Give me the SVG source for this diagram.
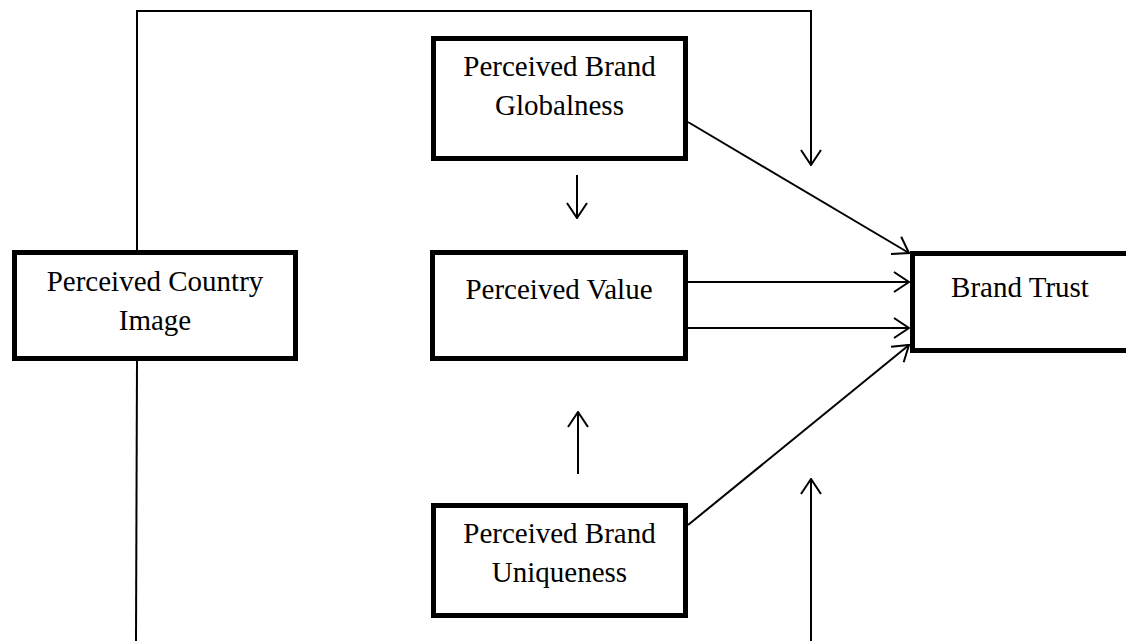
<svg xmlns="http://www.w3.org/2000/svg" width="1126" height="641" viewBox="0 0 1126 641">
  <style>
    .box { fill: #ffffff; stroke: #000000; stroke-width: 5; }
    .lbl { font-family: "Liberation Serif", "Times New Roman", serif; font-size: 29px; fill: #000000; text-anchor: middle; }
    .edge { fill: none; stroke: #000000; stroke-width: 2; }
  </style>
  <defs>
    <marker id="open" viewBox="0 0 17 22" refX="16" refY="11" markerWidth="17" markerHeight="22" markerUnits="userSpaceOnUse" orient="auto">
      <path d="M1,1 L16,11 L1,21" fill="none" stroke="#000000" stroke-width="2"/>
    </marker>
  </defs>

  <rect width="1126" height="641" fill="#ffffff"/>

  <g id="connectors">
    <!-- country image: loop over the top into brand trust -->
    <path class="edge" d="M137,250 L137,11 L811,11 L811,165" marker-end="url(#open)"/>
    <!-- country image: line down to the bottom, back up into brand trust -->
    <path class="edge" d="M137,361 L136,641"/>
    <path class="edge" d="M811,641 L811,479" marker-end="url(#open)"/>
    <!-- globalness -> value -->
    <path class="edge" d="M577,175 L577,218" marker-end="url(#open)"/>
    <!-- uniqueness -> value -->
    <path class="edge" d="M578,474 L578,412" marker-end="url(#open)"/>
    <!-- globalness -> brand trust -->
    <path class="edge" d="M688,122 L909,253" marker-end="url(#open)"/>
    <!-- value -> brand trust (two paths) -->
    <path class="edge" d="M688,282 L909,282" marker-end="url(#open)"/>
    <path class="edge" d="M688,328 L909,328" marker-end="url(#open)"/>
    <!-- uniqueness -> brand trust -->
    <path class="edge" d="M688,525 L909,345" marker-end="url(#open)"/>
  </g>

  <g id="country-image">
    <rect class="box" x="14.5" y="252.5" width="281" height="106"/>
    <text class="lbl" x="155" y="291">Perceived Country</text>
    <text class="lbl" x="155" y="330">Image</text>
  </g>

  <g id="brand-globalness">
    <rect class="box" x="433.5" y="38.5" width="252" height="120"/>
    <text class="lbl" x="559.5" y="76">Perceived Brand</text>
    <text class="lbl" x="559.5" y="115">Globalness</text>
  </g>

  <g id="perceived-value">
    <rect class="box" x="432.5" y="252.5" width="253" height="106"/>
    <text class="lbl" x="559" y="299">Perceived Value</text>
  </g>

  <g id="brand-uniqueness">
    <rect class="box" x="433.5" y="505.5" width="252" height="110"/>
    <text class="lbl" x="559.5" y="543">Perceived Brand</text>
    <text class="lbl" x="559.5" y="582">Uniqueness</text>
  </g>

  <g id="brand-trust">
    <rect class="box" x="912.5" y="253.5" width="220" height="97"/>
    <text class="lbl" x="1020" y="297">Brand Trust</text>
  </g>
</svg>
